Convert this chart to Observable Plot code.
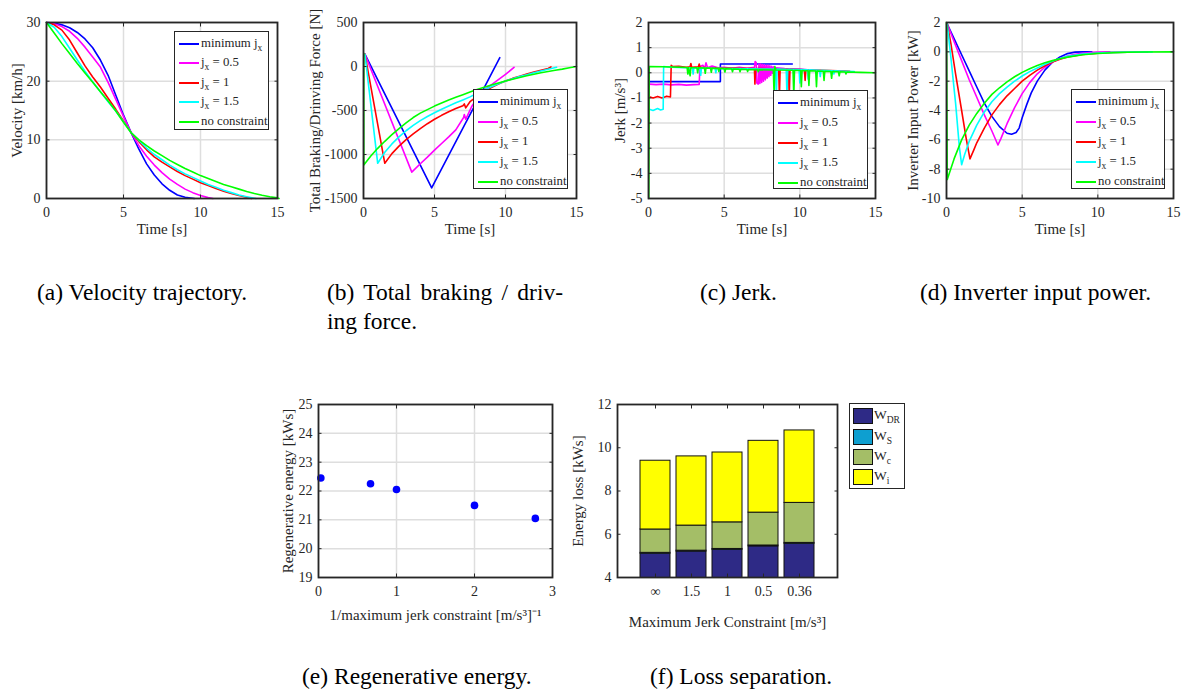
<!DOCTYPE html>
<html><head><meta charset="utf-8">
<script src="https://cdn.jsdelivr.net/npm/d3@7"></script>
<script src="https://cdn.jsdelivr.net/npm/@observablehq/plot@0.6"></script>
<style>
body{margin:0;background:#fff;}
#root{position:relative;width:1181px;height:691px;overflow:hidden;font-family:"Liberation Serif","Times New Roman",serif;color:#262626;background:#fff;}
#root svg{position:absolute;}
.legend{position:absolute;background:#fff;border:1.7px solid #262626;box-sizing:border-box;font-size:12.8px;color:#262626;}
.entry{position:absolute;left:0;white-space:nowrap;line-height:14px;height:14px;}
.entry .ln{position:absolute;left:4px;width:20px;top:6px;height:0;border-top:2px solid;}
.entry .tx{position:absolute;left:26px;top:-1px;}
.legend sub{font-size:9.5px;vertical-align:-4px;line-height:0;}
.cap{position:absolute;font-size:23.5px;color:#000;white-space:nowrap;line-height:29px;}
</style></head>
<body><div id="root"></div>
<script>
// ---------- data ----------
const seriesNames = ["minimum j<sub>x</sub>", "j<sub>x</sub> = 0.5", "j<sub>x</sub> = 1", "j<sub>x</sub> = 1.5", "no constraint"];
const seriesColors = ["#0000ff", "#ff00ff", "#ff0000", "#00ffff", "#00ff00"];

// (a) velocity [km/h] vs time [s]
const velBlue = [[0,30],[0.5,29.9],[1,29.6],[1.5,29.1],[2,28.3],[2.5,27.2],[3,25.7],[3.5,23.6],[4,21.0],[4.5,17.6],[5,14.2],[5.5,11.2],[6,8.4],[6.5,5.9],[7,4.0],[7.5,2.5],[8,1.4],[8.5,0.6],[9,0.2],[9.6,0]];
const velMag = [[0,30],[0.5,29.8],[1,29.3],[1.5,28.5],[2,27.3],[2.5,25.8],[3,24.1],[3.5,22.4],[4,19.8],[4.5,16.9],[5,14.0],[5.5,11.2],[6,9.0],[6.5,7.2],[7,5.7],[7.5,4.4],[8,3.3],[8.5,2.4],[9,1.6],[9.5,1.0],[10,0.5],[10.5,0.15],[10.8,0]];
const velRed = [[0,30],[0.5,29.6],[1,28.7],[1.5,27.0],[2,24.8],[2.5,22.6],[3,20.7],[3.5,19.0],[4,17.1],[4.5,15.2],[5,13.2],[5.5,11.2],[6,9.7],[6.5,8.3],[7,7.1],[7.5,6.2],[8,5.4],[8.5,4.6],[9,3.9],[9.5,3.3],[10,2.7],[10.5,2.2],[11,1.7],[11.5,1.25],[12,0.85],[12.5,0.5],[13,0.2],[13.3,0]];
const velCyan = [[0,30],[0.5,29.2],[1,27.6],[1.5,25.6],[2,23.6],[2.5,21.7],[3,19.9],[3.5,18.2],[4,16.5],[4.5,14.9],[5,13.1],[5.5,11.2],[6,9.9],[6.5,8.6],[7,7.5],[7.5,6.6],[8,5.7],[8.5,4.9],[9,4.2],[9.5,3.6],[10,3.0],[10.5,2.4],[11,1.9],[11.5,1.4],[12,1.0],[12.5,0.6],[13,0.3],[13.6,0]];
const velGreen = [[0,30],[0.5,28.2],[1,26.4],[1.5,24.7],[2,23.0],[2.5,21.4],[3,19.8],[3.5,18.2],[4,16.6],[4.5,14.9],[5,13.0],[5.5,11.2],[6,10.0],[6.5,9.0],[7,8.1],[7.5,7.3],[8,6.5],[8.5,5.8],[9,5.1],[9.5,4.5],[10,3.9],[10.5,3.4],[11,2.9],[11.5,2.4],[12,2.0],[12.5,1.6],[13,1.2],[13.5,0.85],[14,0.55],[14.5,0.3],[15,0.1],[15.1,0]];

// (b) total braking / driving force [N]
const forceBlue = [[0.1,140],[2.5,-635],[4.8,-1380],[7,-700],[8.5,-240],[9.6,100]];
const forceMag = [[0.1,140],[3.4,-1200],[4,-1105],[4.5,-1030],[5,-950],[5.5,-875],[6,-800],[6.5,-720],[7.05,-580],[7.1,-545],[7.2,-600],[7.6,-460],[8,-360],[8.5,-270],[9,-210],[9.5,-150],[10,-90],[10.6,-10]];
const forceRed = [[0.1,140],[1.5,-1100],[2,-990],[2.5,-905],[3,-830],[3.5,-765],[4,-705],[4.5,-650],[5,-600],[5.5,-555],[6,-515],[6.5,-478],[7,-445],[7.1,-425],[7.2,-470],[7.5,-400],[8,-340],[8.5,-285],[9,-240],[9.5,-200],[10,-165],[10.5,-135],[11,-110],[11.5,-85],[12,-62],[12.5,-42],[13,-22],[13.2,-5]];
const forceCyan = [[0.1,140],[1.0,-1100],[1.5,-975],[2,-880],[2.5,-800],[3,-730],[3.5,-670],[4,-615],[4.5,-568],[5,-525],[5.5,-485],[6,-448],[6.5,-413],[7,-380],[7.5,-345],[8,-305],[8.5,-265],[9,-230],[9.5,-195],[10,-165],[10.5,-140],[11,-115],[11.5,-95],[12,-72],[12.5,-52],[13,-32],[13.6,-8]];
const forceGreen = [[0.02,150],[0.02,-1120],[0.5,-1020],[1,-930],[1.5,-850],[2,-775],[2.5,-705],[3,-640],[3.5,-580],[4,-530],[4.5,-490],[5,-450],[5.5,-415],[6,-380],[6.5,-350],[7,-320],[7.5,-290],[8,-262],[8.5,-235],[9,-210],[9.5,-187],[10,-165],[10.5,-145],[11,-125],[11.5,-105],[12,-88],[12.5,-72],[13,-57],[13.5,-43],[14,-30],[14.5,-15],[15,0]];

// (c) jerk [m/s^3]
const jerkBlue = [[0.05,-0.35],[4.75,-0.35],[4.75,0.35],[9.5,0.35]];
const jerkMag = [[0.05,-0.45],[0.5,-0.47],[1,-0.45],[1.5,-0.48],[2,-0.46],[2.5,-0.49],[3,-0.47],[3.35,-0.46],[3.4,0.25],[3.6,0.3],[3.7,0.15],[3.8,0.4],[3.9,0.2],[4.2,0.27],[4.6,0.2],[5,0.22],[5.5,0.18],[6,0.22],[6.5,0.18],[7.0,0.22],[7.05,0.45],[7.12,0.4],[7.15,-0.4],[7.25,-0.45],[7.3,0.35],[7.36,-0.42],[7.42,0.35],[7.48,-0.38],[7.54,0.33],[7.6,-0.33],[7.66,0.32],[7.72,-0.28],[7.78,0.3],[7.84,-0.22],[7.9,0.3],[7.96,-0.16],[8.02,0.28],[8.08,-0.1],[8.14,0.26],[8.2,-0.02],[8.26,0.24],[8.32,0.08],[8.4,0.2],[9,0.17],[9.5,0.16],[10,0.15],[10.5,0.12],[10.8,0.1]];
const jerkRed = [[0.05,-0.95],[0.3,-1.0],[0.6,-0.94],[0.9,-1.0],[1.2,-0.93],[1.45,-0.96],[1.5,0.3],[1.6,0.25],[2,0.26],[2.5,0.22],[2.75,0.24],[2.8,0.37],[2.85,0.22],[3.3,0.24],[3.35,0.35],[3.4,0.22],[4,0.2],[5,0.2],[6,0.18],[7,0.17],[7.03,-0.45],[7.08,0.17],[8,0.16],[8.6,0.15],[8.65,-0.9],[8.7,0.15],[9.25,0.14],[9.3,-0.9],[9.35,0.14],[10,0.13],[10.3,0.12],[10.35,-0.3],[10.4,0.12],[11,0.11],[11.5,0.1],[12,0.09],[12.5,0.08],[13,0.07],[13.3,0.06]];
const jerkCyan = [[0.05,-1.45],[0.3,-1.5],[0.6,-1.42],[0.8,-1.48],[0.97,-1.45],[1.0,0.25],[1.5,0.22],[2,0.21],[2.5,0.2],[2.9,0.2],[2.95,-0.05],[3.0,0.2],[3.4,0.19],[3.45,-0.1],[3.5,0.19],[4.4,0.18],[4.45,0.0],[4.5,0.18],[5.5,0.17],[6.5,0.16],[7.5,0.15],[8.4,0.15],[8.45,-0.9],[8.5,0.15],[9.1,0.14],[9.15,-0.9],[9.2,0.14],[9.95,0.13],[10.0,-0.4],[10.05,0.13],[10.5,0.12],[10.55,-0.25],[10.6,0.12],[11.3,0.1],[11.35,-0.15],[11.4,0.1],[12.2,0.08],[12.25,-0.05],[12.3,0.08],[13,0.06],[13.6,0.05]];
const jerkGreen = [[0.02,-5],[0.05,0.25],[1,0.24],[2,0.22],[2.55,0.21],[2.6,-0.05],[2.65,0.21],[2.75,-0.12],[2.8,0.2],[3.2,0.2],[3.25,0.0],[3.3,0.2],[3.7,0.19],[3.75,-0.02],[3.8,0.19],[4.1,0.18],[4.15,0.02],[4.2,0.18],[4.6,0.17],[4.65,0.05],[4.7,0.17],[5.0,0.16],[5.05,0.03],[5.1,0.16],[5.5,0.15],[5.55,0.04],[5.6,0.15],[6.0,0.14],[6.05,0.04],[6.1,0.14],[6.5,0.13],[6.55,0.05],[6.6,0.13],[7.2,0.12],[7.25,0.04],[7.3,0.12],[8.25,0.11],[8.3,-0.9],[8.35,0.25],[8.4,0.11],[9.55,0.1],[9.6,-0.9],[9.65,0.1],[10.05,0.09],[10.1,-0.55],[10.15,0.09],[10.55,0.08],[10.6,-0.5],[10.65,0.08],[11.05,0.07],[11.1,-0.55],[11.15,0.07],[11.55,0.06],[11.6,-0.3],[11.65,0.06],[12.05,0.05],[12.1,-0.22],[12.15,0.05],[12.55,0.04],[12.6,-0.12],[12.65,0.04],[13.0,0.03],[13.05,-0.05],[13.1,0.03],[14,0.015],[15,0]];

// (d) inverter input power [kW]
const powBlue = [[0.05,1.9],[0.5,0.9],[1,-0.2],[1.5,-1.3],[2,-2.4],[2.5,-3.5],[3,-4.4],[3.5,-5.1],[4,-5.55],[4.3,-5.62],[4.6,-5.5],[4.8,-5.2],[5,-4.5],[5.3,-3.6],[5.6,-2.8],[6,-2.0],[6.5,-1.25],[7,-0.7],[7.5,-0.35],[8,-0.12],[8.5,-0.02],[9,0],[9.6,0]];
const powMag = [[0.05,1.9],[0.5,0.7],[1,-0.6],[1.5,-1.9],[2,-3.1],[2.5,-4.3],[3,-5.4],[3.4,-6.35],[3.6,-5.9],[4,-4.9],[4.5,-3.8],[5,-2.85],[5.5,-2.1],[6,-1.5],[6.5,-1.05],[7,-0.7],[7.5,-0.45],[8,-0.28],[8.5,-0.17],[9,-0.1],[9.5,-0.05],[10,-0.02],[10.8,0]];
const powRed = [[0.05,1.9],[0.3,0.5],[0.6,-1.5],[1.0,-4.0],[1.3,-5.9],[1.55,-7.3],[1.8,-6.7],[2,-6.2],[2.5,-5.2],[3,-4.3],[3.5,-3.6],[4,-3.0],[4.5,-2.5],[5,-2.0],[5.5,-1.6],[6,-1.25],[6.5,-0.95],[7,-0.7],[7.5,-0.5],[8,-0.35],[9,-0.18],[10,-0.09],[11,-0.04],[12,-0.02],[13.3,0]];
const powCyan = [[0.05,1.9],[0.3,-0.5],[0.6,-3.5],[0.85,-6.5],[1.0,-7.7],[1.2,-7.0],[1.5,-6.1],[2,-5.0],[2.5,-4.1],[3,-3.4],[3.5,-2.85],[4,-2.4],[4.5,-2.0],[5,-1.65],[5.5,-1.35],[6,-1.1],[6.5,-0.85],[7,-0.65],[7.5,-0.45],[8,-0.3],[9,-0.15],[10,-0.08],[11,-0.04],[12,-0.02],[13.6,0]];
const powGreen = [[0,2],[0.05,-8.7],[0.5,-7.3],[1,-6.0],[1.5,-5.0],[2,-4.2],[2.5,-3.5],[3,-2.9],[3.5,-2.45],[4,-2.05],[4.5,-1.7],[5,-1.4],[5.5,-1.15],[6,-0.93],[6.5,-0.75],[7,-0.6],[7.5,-0.47],[8,-0.36],[9,-0.2],[10,-0.11],[11,-0.06],[12,-0.03],[13,-0.01],[15,0]];

// (e) regenerative energy vs 1/max jerk
const invJerk = [0.03, 0.667, 1, 2, 2.78];
const regenEnergy = [22.45, 22.25, 22.05, 21.5, 21.05];

// (f) loss separation
const jerkCats = ["∞", "1.5", "1", "0.5", "0.36"];
const lossNames = ["W_DR", "W_S", "W_c", "W_i"];
const lossColors = ["#2e2a86", "#0e9fd0", "#a4be67", "#ffff00"];
const lossDR = [5.1, 5.2, 5.28, 5.44, 5.56];
const lossS  = [0.04, 0.04, 0.04, 0.04, 0.04];
const lossC  = [1.08, 1.16, 1.23, 1.52, 1.85];
const lossI  = [3.18, 3.2, 3.23, 3.32, 3.35];

// tick labels
const timeTicks = [0, 5, 10, 15];
const velTicks = [0, 10, 20, 30];
const forceTicks = [-1500, -1000, -500, 0, 500];
const jerkTicks = [-5, -4, -3, -2, -1, 0, 1, 2];
const powTicks = [-10, -8, -6, -4, -2, 0, 2];
const invTicks = [0, 1, 2, 3];
const regenTicks = [19, 20, 21, 22, 23, 24, 25];
const lossTicks = [4, 6, 8, 10, 12];

// ---------- drawing ----------
const root = document.getElementById("root");
const FONT = '"Liberation Serif","Times New Roman",serif';
const INK = "#262626";
const xy = {x: d => d[0], y: d => d[1]};

function axes(xTicks, yTicks, fmtX) {
  const fx = fmtX || (d => String(d));
  return [
    Plot.axisX(xTicks, {anchor: "bottom", tickSize: 0, tickPadding: 8.5, tickFormat: fx, label: null, fill: INK}),
    Plot.axisY(yTicks, {anchor: "left", tickSize: 0, tickPadding: 6, tickFormat: d => String(d), label: null, fill: INK}),
    Plot.axisX(xTicks, {anchor: "bottom", tickSize: -3.5, tickFormat: () => "", label: null, stroke: INK}),
    Plot.axisX(xTicks, {anchor: "top", tickSize: -3.5, tickFormat: () => "", label: null, stroke: INK}),
    Plot.axisY(yTicks, {anchor: "left", tickSize: -3.5, tickFormat: () => "", label: null, stroke: INK}),
    Plot.axisY(yTicks, {anchor: "right", tickSize: -3.5, tickFormat: () => "", label: null, stroke: INK})
  ];
}

function panel(g, cfg) {
  const ml = 62, mr = 8, mt = 8, mb = 52;
  const w = g.R - g.L, h = g.B - g.T;
  const marks = [];
  if (cfg.grid !== false) {
    marks.push(Plot.gridX(cfg.xTicks, {stroke: "#dedede", strokeOpacity: 1, strokeWidth: 1.5}));
    marks.push(Plot.gridY(cfg.yTicks, {stroke: "#dedede", strokeOpacity: 1, strokeWidth: 1.5}));
  }
  marks.push(...cfg.marks);
  marks.push(Plot.frame({stroke: INK, strokeWidth: 1.8}));
  marks.push(...axes(cfg.xTicks, cfg.yTicks, cfg.fmtX));
  marks.push(Plot.text([cfg.yLabel], {frameAnchor: "left", textAnchor: "middle", lineAnchor: "middle", rotate: -90, dx: -cfg.yLabelOff, fontSize: 15, fill: INK}));
  marks.push(Plot.text([cfg.xLabel], {frameAnchor: "bottom", textAnchor: "middle", lineAnchor: "middle", dy: cfg.xLabelOff, fontSize: 15, fill: INK}));
  const svg = Plot.plot({
    width: w + ml + mr, height: h + mt + mb,
    marginLeft: ml, marginRight: mr, marginTop: mt, marginBottom: mb,
    style: {background: "transparent", fontFamily: FONT, fontSize: "14px", color: INK, overflow: "visible"},
    x: cfg.x, y: cfg.y, color: cfg.color,
    marks
  });
  svg.style.left = (g.L - ml) + "px";
  svg.style.top = (g.T - mt) + "px";
  root.appendChild(svg);
}

function lines(series) {
  return series.map((s, i) => Plot.line(s, {...xy, stroke: seriesColors[i], strokeWidth: 1.6}));
}

function legend(left, top, width, height, y0, step) {
  const div = document.createElement("div");
  div.className = "legend";
  Object.assign(div.style, {left: left + "px", top: top + "px", width: width + "px", height: height + "px"});
  seriesNames.forEach((name, i) => {
    const e = document.createElement("div");
    e.className = "entry";
    e.style.top = (y0 + i * step - 7) + "px";
    e.innerHTML = `<div class="ln" style="border-color:${seriesColors[i]}"></div><div class="tx">${name}</div>`;
    div.appendChild(e);
  });
  root.appendChild(div);
}

// (a)
panel({L: 46, R: 277, T: 22, B: 198}, {
  x: {domain: [0, 15]}, y: {domain: [0, 30]},
  xTicks: timeTicks, yTicks: velTicks,
  marks: lines([velBlue, velMag, velRed, velCyan, velGreen]),
  xLabel: "Time [s]", yLabel: "Velocity [km/h]", xLabelOff: 31, yLabelOff: 29
});
legend(174, 31, 95, 99, 11.5, 19.5);

// (b)
panel({L: 363, R: 576, T: 22, B: 198}, {
  x: {domain: [0, 15]}, y: {domain: [-1500, 500]},
  xTicks: timeTicks, yTicks: forceTicks,
  marks: lines([forceBlue, forceMag, forceRed, forceCyan, forceGreen]),
  xLabel: "Time [s]", yLabel: "Total Braking/Drinving Force [N]", xLabelOff: 31, yLabelOff: 48
});
legend(473, 89, 95, 100, 11.5, 20.2);

// (c)
panel({L: 648, R: 875, T: 22, B: 198}, {
  x: {domain: [0, 15]}, y: {domain: [-5, 2]},
  xTicks: timeTicks, yTicks: jerkTicks,
  marks: lines([jerkBlue, jerkMag, jerkRed, jerkCyan, jerkGreen]),
  xLabel: "Time [s]", yLabel: "Jerk [m/s³]", xLabelOff: 31, yLabelOff: 28
});
legend(773, 90, 95, 99, 11.5, 20.2);

// (d)
panel({L: 946, R: 1173, T: 22, B: 198}, {
  x: {domain: [0, 15]}, y: {domain: [-10, 2]},
  xTicks: timeTicks, yTicks: powTicks,
  marks: lines([powBlue, powMag, powRed, powCyan, powGreen]),
  xLabel: "Time [s]", yLabel: "Inverter Input Power [kW]", xLabelOff: 31, yLabelOff: 33
});
legend(1071, 89, 94, 100, 11.5, 20.2);

// (e)
panel({L: 318, R: 552, T: 404, B: 577}, {
  x: {domain: [0, 3]}, y: {domain: [19, 25]},
  xTicks: invTicks, yTicks: regenTicks,
  marks: [Plot.dot(invJerk.map((x, i) => ({x, y: regenEnergy[i]})), {x: "x", y: "y", r: 3.8, fill: "#0000ff", stroke: "none"})],
  xLabel: "1/maximum jerk constraint [m/s³]⁻¹", yLabel: "Regenerative energy [kWs]", xLabelOff: 38, yLabelOff: 30
});

// (f)
const lossRows = [];
jerkCats.forEach((c, i) => {
  [lossDR, lossS, lossC, lossI].forEach((arr, k) => lossRows.push({cat: c, comp: lossNames[k], value: arr[i]}));
});
panel({L: 617, R: 837, T: 404, B: 577}, {
  grid: false,
  x: {type: "band", domain: jerkCats, paddingInner: 0.17, paddingOuter: 0.62, align: 0.5},
  y: {domain: [4, 12]},
  color: {domain: lossNames, range: lossColors},
  xTicks: jerkCats, yTicks: lossTicks, fmtX: d => d,
  marks: [Plot.barY(lossRows, {x: "cat", y: "value", fill: "comp", stroke: "#111", strokeWidth: 1, order: null, clip: true})],
  xLabel: "Maximum Jerk Constraint [m/s³]", yLabel: "Energy loss [kWs]", xLabelOff: 45, yLabelOff: 39
});
// legend (f)
{
  const div = document.createElement("div");
  div.className = "legend";
  Object.assign(div.style, {left: "849px", top: "403px", width: "56px", height: "86px", fontSize: "13.5px"});
  const labels = ["W<sub>DR</sub>", "W<sub>S</sub>", "W<sub>c</sub>", "W<sub>i</sub>"];
  const ys = [12, 32.5, 53, 73];
  labels.forEach((lab, i) => {
    const e = document.createElement("div");
    e.className = "entry";
    e.style.top = (ys[i] - 8) + "px";
    e.style.height = "16px";
    e.innerHTML = `<div style="position:absolute;left:3px;top:0;width:20px;height:16px;box-sizing:border-box;border:1px solid #111;background:${lossColors[i]}"></div><div style="position:absolute;left:24px;top:-1px;line-height:16px">${lab}</div>`;
    div.appendChild(e);
  });
  root.appendChild(div);
}

// captions
function caption(left, top, html, width) {
  const d = document.createElement("div");
  d.className = "cap";
  d.style.left = left + "px"; d.style.top = top + "px";
  if (width) { d.style.width = width + "px"; d.style.textAlign = "justify"; d.style.textAlignLast = "justify"; }
  d.innerHTML = html;
  root.appendChild(d);
}
caption(37, 278, "(a) Velocity trajectory.");
caption(327, 278, "(b) Total braking / driv-", 236);
caption(327, 307, "ing force.");
caption(700, 278, "(c) Jerk.");
caption(920, 278, "(d) Inverter input power.");
caption(302, 662, "(e) Regenerative energy.");
caption(650, 662, "(f) Loss separation.");
</script>
</body></html>
